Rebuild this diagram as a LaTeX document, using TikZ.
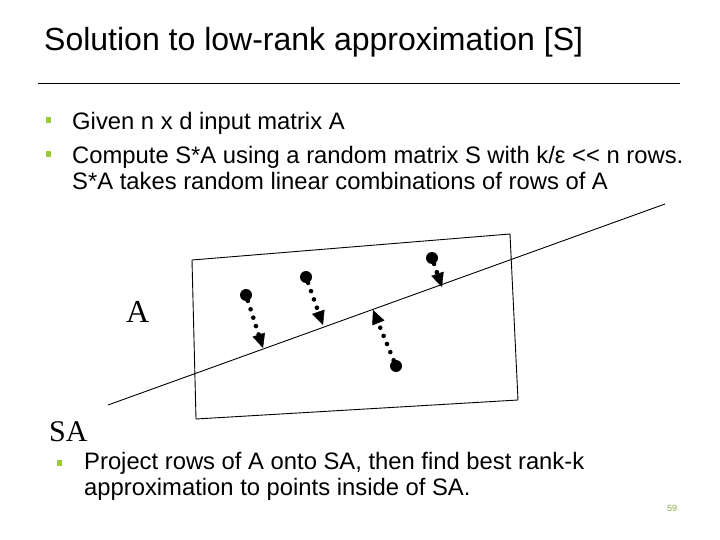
\documentclass[tikz,border=0pt]{standalone}
\usepackage{fontspec}
\setmainfont{Liberation Sans}
\newfontfamily\serifface{Liberation Serif}
\usepackage{xcolor}
\definecolor{bulletgreen}{HTML}{99CC33}
\definecolor{pagegreen}{HTML}{8CA844}
\definecolor{darktext}{HTML}{000000}
\usetikzlibrary{positioning, calc, arrows.meta}

\begin{document}
\begin{tikzpicture}[x=1pt, y=-1pt,
    txt/.style={anchor=base west, inner sep=0pt, text=darktext, font=\fontsize{23.8}{28}\selectfont},
    sq/.style={fill=bulletgreen, inner sep=0pt, minimum width=5.5pt, minimum height=6pt},
    pt/.style={circle, fill=black, inner sep=0pt, minimum size=12pt},
    dotarrow/.style={line width=4.6pt, line cap=round, dash pattern=on 0pt off 8.8pt,
      -{Triangle[length=14pt, width=13pt, line width=0.4pt]}}]
      % Page
      \useasboundingbox (0,0) rectangle (720,540);
      
      % Title
      \node[anchor=base west, inner sep=0pt, font=\fontsize{32}{36}\selectfont] (title) at (44,51) {Solution to low-rank approximation [S]};
      \draw[line width=0.9pt] (38,83) -- (680,83);
      
      % Bullets
      \node[sq] (b1) at (48.5,120) {};
      \node[txt] (given) at (72,130) {Given n x d input matrix A};
      \node[sq] (b2) at (48.5,154) {};
      \node[txt] (compute) at (72,163.5) {Compute S*A using a random matrix S with k/ε <{}< n rows.};
      \node[txt] (takes) at (72,189.5) {S*A takes random linear combinations of rows of A};
      
      % Rows of A (quadrilateral) and the line SA
      \draw[line width=0.9pt] (192,260) -- (510,234) -- (518,400) -- (196,419) -- cycle;
      \draw[line width=0.9pt] (108,405) -- (665,204);
      \node[anchor=base west, inner sep=0pt, font=\serifface\fontsize{32}{36}\selectfont] (labA) at (126,322) {A};
      \node[anchor=base west, inner sep=0pt, font=\serifface\fontsize{30}{34}\selectfont] (labSA) at (49,441) {SA};
      
      % Points and their projections
      \node[pt] (p1) at (246,295) {};
      \node[pt] (p2) at (306,277) {};
      \node[pt] (p3) at (432,258) {};
      \node[pt] (p4) at (396,366) {};
      \coordinate (q1) at (263,348);
      \coordinate (q2) at (323,325);
      \coordinate (q3) at (442,287);
      \coordinate (q4) at (373,310);
      \draw[dotarrow] (p1) -- (q1);
      \draw[dotarrow] (p2) -- (q2);
      \draw[dotarrow] (p3) -- (q3);
      \draw[dotarrow] (p4) -- (q4);
      
      % Last bullet
      \node[sq] (b3) at (59.5,463) {};
      \node[txt] (project) at (84,469.5) {Project rows of A onto SA, then find best rank-k};
      \node[txt] (approx) at (84,495) {approximation to points inside of SA.};
      
      % Page number
      \node[anchor=base west, inner sep=0pt, text=pagegreen, font=\fontsize{9}{10}\selectfont] (pgno) at (667,511) {59};
    \end{tikzpicture}
\end{document}
